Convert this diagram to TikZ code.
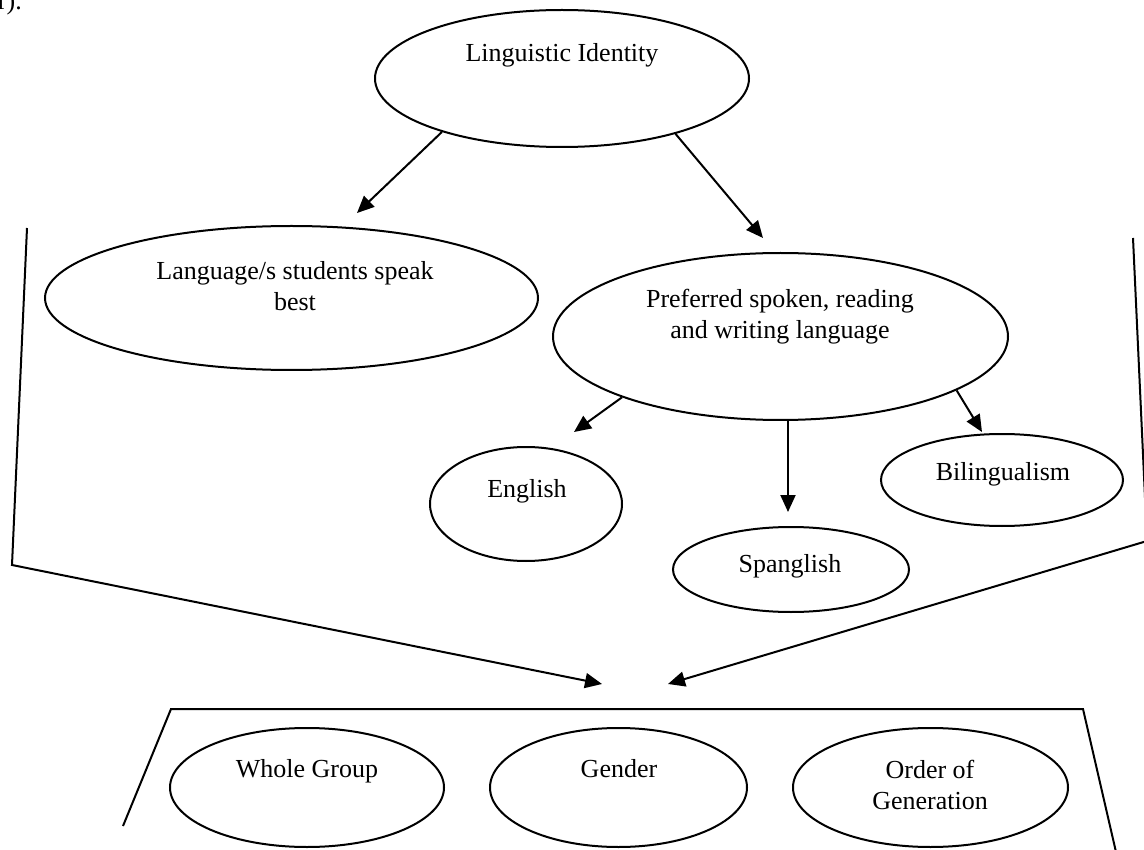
\documentclass[tikz,border=0pt]{standalone}
\usepackage{fontspec}
\setmainfont{Liberation Serif}
\usetikzlibrary{shapes.geometric,arrows.meta}
\begin{document}
\begin{tikzpicture}[x=1pt,y=-1pt,
  line width=2pt,
  bubble/.style={draw, ellipse, inner sep=0pt},
  caption/.style={font=\fontsize{26}{31}\selectfont, align=center, anchor=base, inner sep=0pt},
  link/.style={-{Triangle[length=17pt,width=15pt]}},
  frame/.style={line join=miter}]
\useasboundingbox (0,0) rectangle (1144,850);

% trailing text of the preceding paragraph
\node[caption, anchor=base west] (note) at (-3,10) {r).};

% top level
\node[bubble, minimum width=374pt, minimum height=137pt] (ling) at (562,78.5) {};
\node[caption] (lingT) at (562,62) {Linguistic Identity};

% second level (multi-line captions are placed by their last baseline)
\node[bubble, minimum width=493pt, minimum height=144pt] (lang) at (291.5,298) {};
\node[caption] (langT) at (295,311) {Language/s students speak\\best};

\node[bubble, minimum width=455pt, minimum height=167pt] (pref) at (780.5,336.5) {};
\node[caption] (prefT) at (780,339) {Preferred spoken, reading\\and writing language};

% languages
\node[bubble, minimum width=192pt, minimum height=114pt] (eng) at (526,504) {};
\node[caption] (engT) at (527,497) {English};

\node[bubble, minimum width=236pt, minimum height=85pt] (spa) at (791,569.5) {};
\node[caption] (spaT) at (790,572) {Spanglish};

\node[bubble, minimum width=242pt, minimum height=92pt] (bil) at (1002,480) {};
\node[caption] (bilT) at (1003,480) {Bilingualism};

% groupings
\node[bubble, minimum width=274pt, minimum height=119pt] (whole) at (307,787.5) {};
\node[caption] (wholeT) at (307,777) {Whole Group};

\node[bubble, minimum width=257pt, minimum height=119pt] (gen) at (618.5,787.5) {};
\node[caption] (genT) at (619,777) {Gender};

\node[bubble, minimum width=275pt, minimum height=119pt] (ord) at (930.5,787.5) {};
\node[caption] (ordT) at (930,809) {Order of\\Generation};

% arrow tips
\coordinate (t1) at (357,213);
\coordinate (t2) at (763,238);
\coordinate (t3) at (574,432);
\coordinate (t4) at (788,512);
\coordinate (t5) at (982,432);
\coordinate (tL) at (602,684);
\coordinate (tR) at (668,684);

\draw[link] (ling.204) -- (t1);
\draw[link] (ling.334) -- (t2);
\draw[link] (pref.201) -- (t3);
\draw[link] (t4 |- pref.south) -- (t4);
\draw[link] (pref.343) -- (t5);

% side brackets converging on the groupings
\coordinate (l1) at (27,228);
\coordinate (l2) at (12,565);
\coordinate (r1) at (1133,238);
\coordinate (r2) at (1147,541);
\draw[link, frame] (l1) -- (l2) -- (tL);
\draw[link, frame] (r1) -- (r2) -- (tR);

% open frame around the groupings
\coordinate (b1) at (123,826);
\coordinate (b2) at (171,709);
\coordinate (b3) at (1083,709);
\coordinate (b4) at (1116,852);
\draw[frame] (b1) -- (b2) -- (b3) -- (b4);
\end{tikzpicture}
\end{document}
